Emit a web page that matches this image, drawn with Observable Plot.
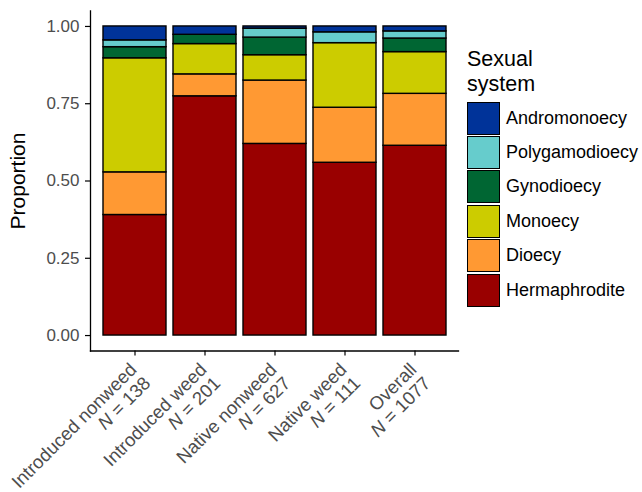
<!DOCTYPE html>
<html><head><meta charset="utf-8">
<script src="https://cdn.jsdelivr.net/npm/d3@7"></script>
<script src="https://cdn.jsdelivr.net/npm/@observablehq/plot@0.6"></script>
<style>
body{margin:0;background:#fff;font-family:"Liberation Sans",Arial,sans-serif}
#wrap{position:relative;width:642px;height:492px}
#legend{position:absolute;left:467px;top:47px;color:#000}
#legend .title{font-size:21.5px;line-height:25px;margin-bottom:4px}
#legend .row{display:flex;align-items:center;height:34.4px}
#legend .key{box-sizing:border-box;width:33px;height:33px;border:1.6px solid #000}
#legend .lab{font-size:18px;margin-left:6px;white-space:nowrap}
</style></head><body><div id="wrap"></div>
<script>
const groups = ["Introduced nonweed","Introduced weed","Native nonweed","Native weed","Overall"];
const groupN = [138,201,627,111,1077];
const systems = ["Hermaphrodite","Dioecy","Monoecy","Gynodioecy","Polygamodioecy","Andromonoecy"];
const colors = ["#990000","#FF9933","#CCCC00","#006633","#66CCCC","#003399"];
const hermaphrodite  = [0.390,0.774,0.620,0.559,0.614];
const dioecy         = [0.138,0.071,0.205,0.178,0.168];
const monoecy        = [0.369,0.098,0.082,0.209,0.135];
const gynodioecy     = [0.036,0.030,0.057,0.000,0.044];
const polygamodioecy = [0.022,0.000,0.029,0.035,0.023];
const andromonoecy   = [0.045,0.027,0.007,0.019,0.016];
const yTicks = [0,0.25,0.5,0.75,1];

const series = [hermaphrodite,dioecy,monoecy,gynodioecy,polygamodioecy,andromonoecy];
const data = [];
groups.forEach((g,i)=>systems.forEach((s,j)=>data.push({group:g,system:s,value:series[j][i]})));

const font = "'Liberation Sans', Arial, sans-serif";
const chart = Plot.plot({
  width: 460, height: 492,
  marginLeft: 90, marginRight: 2, marginTop: 10.5, marginBottom: 141.5,
  style: {fontFamily: font, background: "white", overflow: "visible"},
  x: {domain: groups, paddingInner: 0.1, paddingOuter: 0.15, label: null},
  y: {domain: [-0.05, 1.05], label: null},
  color: {domain: systems, range: colors},
  marks: [
    Plot.barY(data, {x:"group", y:"value", fill:"system", stroke:"black", strokeWidth:1.4, order: systems}),
    Plot.axisY({ticks: yTicks, tickFormat: d3.format(".2f"), tickSize: 5, tickPadding: 6, fontSize: 17, fill: "#4d4d4d", stroke: "black", strokeWidth: 1.2, label: null}),
    Plot.axisX({tickSize: 5, tickFormat: () => "", stroke: "black", strokeWidth: 1.2, label: null}),
    Plot.text(groups, {x: d=>d, frameAnchor: "bottom", dy: 10, dx: -7, rotate: -45, textAnchor: "end", lineAnchor: "top", lineHeight: 1.05,
      text: (d,i)=> d + "\nN = " + groupN[groups.indexOf(d)], fontSize: 18.5, fill: "#4d4d4d"}),
    Plot.frame({anchor: "left", stroke: "black", strokeWidth: 1.3}),
    Plot.frame({anchor: "bottom", stroke: "black", strokeWidth: 1.3}),
    Plot.text(["Proportion"], {frameAnchor: "left", dx: -72, rotate: -90, text: d=>d, fontSize: 21, fill: "black", textAnchor: "middle"})
  ]
});
// italic N in tick labels
chart.querySelectorAll("tspan").forEach(t=>{
  const s = t.textContent;
  if (s.startsWith("N = ")) {
    t.textContent = "";
    const it = document.createElementNS("http://www.w3.org/2000/svg","tspan");
    it.setAttribute("font-style","italic");
    it.textContent = "N";
    t.appendChild(it);
    t.appendChild(document.createTextNode(s.slice(1)));
  }
});
const wrap = document.getElementById("wrap");
wrap.appendChild(chart);
const leg = document.createElement("div");
leg.id = "legend";
let html = '<div class="title">Sexual<br>system</div>';
for (let j = systems.length-1; j >= 0; j--) {
  html += `<div class="row"><div class="key" style="background:${colors[j]}"></div><div class="lab">${systems[j]}</div></div>`;
}
leg.innerHTML = html;
wrap.appendChild(leg);
</script></body></html>
